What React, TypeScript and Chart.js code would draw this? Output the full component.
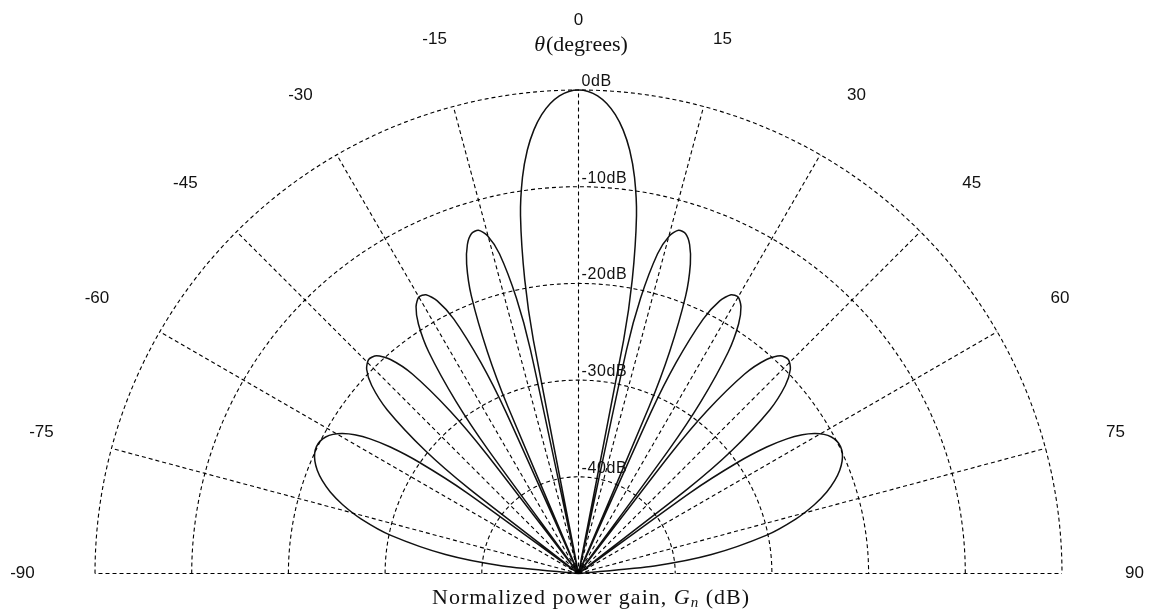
import React, { useEffect, useRef } from "react";
import { Chart, registerables } from "chart.js";

Chart.register(...registerables);

// Angular ticks (degrees) and their labels
const angleTicks = [-90, -75, -60, -45, -30, -15, 0, 15, 30, 45, 60, 75, 90];
const angleTickLabels = ["-90", "-75", "-60", "-45", "-30", "-15", "0", "15", "30", "45", "60", "75", "90"];

// Radial rings (dB) and their labels
const ringDb = [0, -10, -20, -30, -40];
const ringLabels = ["0dB", "-10dB", "-20dB", "-30dB", "-40dB"];
const dbFloor = -50;

// Pattern samples: angle (deg) and normalized gain (dB)
const patternAngles = [
  -90, -84.27, -81.89, -78.52, -75.93, -73.74, -71.81, -70.05, -68.43, -66.93, -65.51, -64.16, -62.87, -61.64, -60.46,
  -59.32, -58.21, -57.14, -56.1, -55.09, -54.1, -53.13, -52.19, -51.26, -49.46, -47.73, -46.05, -44.43, -42.84, -41.3,
  -39.79, -38.32, -37.59, -36.87, -36.16, -35.45, -34.06, -32.68, -31.33, -30.0, -28.69, -27.39, -26.1, -24.84, -24.2,
  -23.58, -22.95, -22.33, -21.1, -19.88, -18.66, -17.46, -16.26, -15.07, -13.89, -12.71, -12.12, -11.54, -10.95, -10.37,
  -9.21, -8.05, -6.89, -5.74, -4.59, -3.44, -2.29, -1.15, 0,
  1.15, 2.29, 3.44, 4.59, 5.74, 6.89, 8.05, 9.21, 10.37, 10.95, 11.54, 12.12, 12.71, 13.89, 15.07, 16.26, 17.46, 18.66,
  19.88, 21.1, 22.33, 22.95, 23.58, 24.2, 24.84, 26.1, 27.39, 28.69, 30.0, 31.33, 32.68, 34.06, 35.45, 36.16, 36.87,
  37.59, 38.32, 39.79, 41.3, 42.84, 44.43, 46.05, 47.73, 49.46, 51.26, 52.19, 53.13, 54.1, 55.09, 56.1, 57.14, 58.21,
  59.32, 60.46, 61.64, 62.87, 64.16, 65.51, 66.93, 68.43, 70.05, 71.81, 73.74, 75.93, 78.52, 81.89, 84.27, 90,
];
const patternGainDb = [
  -50, -42.11, -36.11, -30.2, -26.85, -24.6, -22.98, -21.8, -20.95, -20.37, -20.02, -19.89, -19.98, -20.28, -20.82,
  -21.63, -22.77, -24.34, -26.55, -29.85, -35.72, -50, -35.63, -29.67, -23.98, -21.1, -19.57, -19.0, -19.29, -20.54,
  -23.15, -28.55, -34.37, -50, -34.17, -28.15, -22.35, -19.34, -17.69, -16.99, -17.14, -18.25, -20.7, -25.95, -31.68,
  -50, -31.31, -25.2, -19.2, -15.98, -14.09, -13.14, -13.02, -13.82, -15.94, -20.8, -26.32, -50, -25.48, -19.11,
  -12.53, -8.62, -5.89, -3.89, -2.4, -1.31, -0.57, -0.14, 0,
  -0.14, -0.57, -1.31, -2.4, -3.89, -5.89, -8.62, -12.53, -19.11, -25.48, -50, -26.32, -20.8, -15.94, -13.82, -13.02,
  -13.14, -14.09, -15.98, -19.2, -25.2, -31.31, -50, -31.68, -25.95, -20.7, -18.25, -17.14, -16.99, -17.69, -19.34,
  -22.35, -28.15, -34.17, -50, -34.37, -28.55, -23.15, -20.54, -19.29, -19.0, -19.57, -21.1, -23.98, -29.67, -35.63,
  -50, -35.72, -29.85, -26.55, -24.34, -22.77, -21.63, -20.82, -20.28, -19.98, -19.89, -20.02, -20.37, -20.95, -21.8,
  -22.98, -24.6, -26.85, -30.2, -36.11, -42.11, -50,
];

const W = 1149;
const H = 613;
const CX = 578.5;
const CY = 573.5;
const RPX = 483.5;

const toXY = (deg: number, db: number) => {
  const r = Math.max(0, db - dbFloor);
  const a = (deg * Math.PI) / 180;
  return { x: r * Math.sin(a), y: r * Math.cos(a) };
};

const labelPlugin = {
  id: "polarLabels",
  afterDraw(chart: any) {
    const { ctx, scales } = chart;
    const xs = scales.x;
    const ys = scales.y;
    const px = (v: number) => xs.getPixelForValue(v);
    const py = (v: number) => ys.getPixelForValue(v);
    ctx.save();
    ctx.fillStyle = "#111";
    // angle labels
    ctx.font = '17px "Liberation Sans", Arial, sans-serif';
    ctx.textAlign = "center";
    ctx.textBaseline = "middle";
    const labelR = 57.5;
    angleTicks.forEach((a, i) => {
      const p = toXY(a, dbFloor + labelR);
      const dy = Math.abs(a) === 90 ? 0 : 3;
      ctx.fillText(angleTickLabels[i], px(p.x), py(p.y) + dy);
    });
    // ring labels
    ctx.font = '16px "Liberation Sans", Arial, sans-serif';
    (ctx as any).letterSpacing = "0.6px";
    ctx.textAlign = "left";
    ctx.textBaseline = "alphabetic";
    ringDb.forEach((d, i) => {
      const p = toXY(0, d);
      ctx.fillText(ringLabels[i], px(p.x) + 3, py(p.y) - 4);
    });
    (ctx as any).letterSpacing = "0px";
    // title: θ(degrees)
    ctx.textBaseline = "middle";
    const serif = '"Liberation Serif", "Times New Roman", serif';
    const t1 = "\u03b8";
    const t2 = "(degrees)";
    ctx.font = `italic 22px ${serif}`;
    const w1 = ctx.measureText(t1).width;
    ctx.font = `22px ${serif}`;
    const w2 = ctx.measureText(t2).width;
    const x0 = 581 - (w1 + w2 + 1) / 2;
    ctx.font = `italic 22px ${serif}`;
    ctx.fillText(t1, x0, 45);
    ctx.font = `22px ${serif}`;
    ctx.fillText(t2, x0 + w1 + 1, 45);
    // bottom label
    (ctx as any).letterSpacing = "1px";
    const b1 = "Normalized power gain, ";
    const b2 = "G";
    const b3 = "n";
    const b4 = " (dB)";
    ctx.font = `22px ${serif}`;
    const wb1 = ctx.measureText(b1).width;
    const wb4 = ctx.measureText(b4).width;
    ctx.font = `italic 22px ${serif}`;
    const wb2 = ctx.measureText(b2).width;
    ctx.font = `italic 15px ${serif}`;
    const wb3 = ctx.measureText(b3).width;
    const total = wb1 + wb2 + wb3 + wb4;
    let bx = 591 - total / 2;
    const by = 598;
    ctx.font = `22px ${serif}`;
    ctx.fillText(b1, bx, by);
    bx += wb1;
    ctx.font = `italic 22px ${serif}`;
    ctx.fillText(b2, bx, by);
    bx += wb2;
    ctx.font = `italic 15px ${serif}`;
    ctx.fillText(b3, bx, by + 5);
    bx += wb3;
    ctx.font = `22px ${serif}`;
    ctx.fillText(b4, bx, by);
    ctx.restore();
  },
};

export default function App() {
  const ref = useRef<HTMLCanvasElement | null>(null);

  useEffect(() => {
    document.body.style.margin = "0";
    const canvas = ref.current;
    if (!canvas) return;

    const gridStyle = {
      showLine: true,
      pointRadius: 0,
      borderColor: "#000",
      borderWidth: 1.1,
      borderDash: [4, 3],
      tension: 0,
      fill: false,
    };

    const datasets: any[] = [];
    ringDb.forEach((d) => {
      const pts = [];
      for (let a = -90; a <= 90; a += 1) pts.push(toXY(a, d));
      datasets.push({ ...gridStyle, data: pts });
    });
    angleTicks.forEach((a) => {
      datasets.push({ ...gridStyle, data: [toXY(a, dbFloor), toXY(a, 0)] });
    });
    datasets.push({
      showLine: true,
      pointRadius: 0,
      borderColor: "#111",
      borderWidth: 1.5,
      tension: 0.25,
      fill: false,
      data: patternAngles.map((a, i) => toXY(a, patternGainDb[i])),
    });

    const k = RPX / 50;
    const chart = new Chart(canvas, {
      type: "scatter",
      data: { datasets },
      options: {
        animation: false,
        responsive: false,
        maintainAspectRatio: false,
        layout: { padding: 0 },
        plugins: { legend: { display: false }, tooltip: { enabled: false }, title: { display: false } },
        scales: {
          x: { type: "linear", display: false, min: -CX / k, max: (W - CX) / k },
          y: { type: "linear", display: false, min: -(H - CY) / k, max: CY / k },
        },
        events: [],
      },
      plugins: [labelPlugin],
    });
    return () => chart.destroy();
  }, []);

  return (
    <div style={{ position: "absolute", left: 0, top: 0, width: W, height: H, background: "#fff" }}>
      <canvas ref={ref} width={W} height={H} style={{ display: "block", width: W, height: H }} />
    </div>
  );
}
